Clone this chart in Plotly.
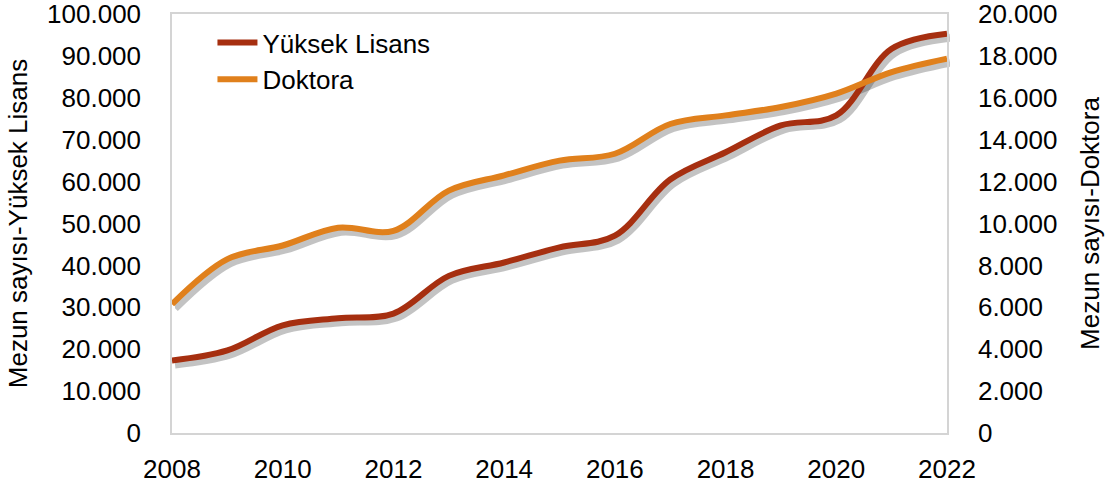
import plotly.graph_objects as go

years = list(range(2008, 2023))
yuksek_lisans = [17300, 19700, 25700, 27400, 28500, 37500, 40700, 44300, 47100,
                 60500, 67000, 73400, 75800, 91700, 95300]
doktora = [6150, 8300, 8950, 9800, 9650, 11570, 12300, 13000, 13330,
           14750, 15160, 15560, 16200, 17230, 17870]
x_ticks = list(range(2008, 2023, 2))

c_yl = "#A62F10"
c_dk = "#E0801C"
shadow = "rgba(40,40,40,0.28)"

W, H = 1109, 483
ml, mr, mt, mb = 172, 159, 14, 46
pw = W - ml - mr
ph = H - mt - mb
dx, dy = 3, 4

fig = go.Figure()

# shadow traces (same data, drawn on axes offset by a few pixels)
fig.add_trace(go.Scatter(x=years, y=yuksek_lisans, mode="lines", xaxis="x", yaxis="y",
                         line=dict(color=shadow, width=8, shape="spline", smoothing=1),
                         showlegend=False, hoverinfo="skip"))
fig.add_trace(go.Scatter(x=years, y=doktora, mode="lines", xaxis="x", yaxis="y2",
                         line=dict(color=shadow, width=8, shape="spline", smoothing=1),
                         showlegend=False, hoverinfo="skip"))

# main traces
fig.add_trace(go.Scatter(x=years, y=yuksek_lisans, mode="lines", name="Yüksek Lisans",
                         xaxis="x2", yaxis="y3",
                         line=dict(color=c_yl, width=6, shape="spline", smoothing=1)))
fig.add_trace(go.Scatter(x=years, y=doktora, mode="lines", name="Doktora",
                         xaxis="x2", yaxis="y4",
                         line=dict(color=c_dk, width=6, shape="spline", smoothing=1)))

font_main = "Liberation Sans, Arial, sans-serif"
border = "#d4d4d4"
fs = 26

fig.update_layout(
    width=W, height=H,
    margin=dict(l=ml, r=mr, t=mt, b=mb, autoexpand=False),
    paper_bgcolor="white",
    plot_bgcolor="rgba(0,0,0,0)",
    separators=",.",
    font=dict(family=font_main, size=fs, color="#000000"),
    showlegend=True,
    legend=dict(x=0.052, y=0.988, xanchor="left", yanchor="top",
                bgcolor="rgba(0,0,0,0)", font=dict(size=fs, family=font_main),
                tracegroupgap=0, itemwidth=40),
    xaxis=dict(domain=[dx / pw, 1], range=[2008, 2022], visible=False,
               anchor="y", fixedrange=True, automargin=False),
    yaxis=dict(domain=[0, (ph - dy) / ph], range=[0, 100000], visible=False,
               anchor="x", fixedrange=True, automargin=False),
    yaxis2=dict(overlaying="y", range=[0, 20000], visible=False, anchor="x",
                fixedrange=True, automargin=False),
    xaxis2=dict(domain=[0, (pw - dx) / pw], range=[2008, 2022], anchor="y3",
                tickvals=x_ticks, ticktext=[str(v) for v in x_ticks],
                tickfont=dict(size=fs), automargin=False, ticklabeloverflow="allow",
                showgrid=False, zeroline=False, showline=True, mirror=True,
                linecolor=border, linewidth=1.5, ticks="", ticklabelstandoff=12),
    yaxis3=dict(domain=[dy / ph, 1], range=[0, 100000], anchor="x2", dtick=10000,
                tickformat=",d", showgrid=False, zeroline=False, showline=True,
                linecolor=border, linewidth=1.5, ticks="", ticklabelstandoff=24,
                tickfont=dict(size=fs), automargin=False, ticklabeloverflow="allow",
                title=dict(text="Mezun sayısı-Yüksek Lisans", font=dict(size=fs), standoff=12)),
    yaxis4=dict(overlaying="y3", side="right", range=[0, 20000], anchor="x2", dtick=2000,
                tickformat=",d", showgrid=False, zeroline=False, showline=True,
                linecolor=border, linewidth=1.5, ticks="", ticklabelstandoff=24,
                tickfont=dict(size=fs), automargin=False, ticklabeloverflow="allow",
                title=dict(text="Mezun sayısı-Doktora", font=dict(size=fs), standoff=24)),
)

fig.write_html("out.html", config={"displayModeBar": False},
               post_script="document.body.style.margin='0';")
